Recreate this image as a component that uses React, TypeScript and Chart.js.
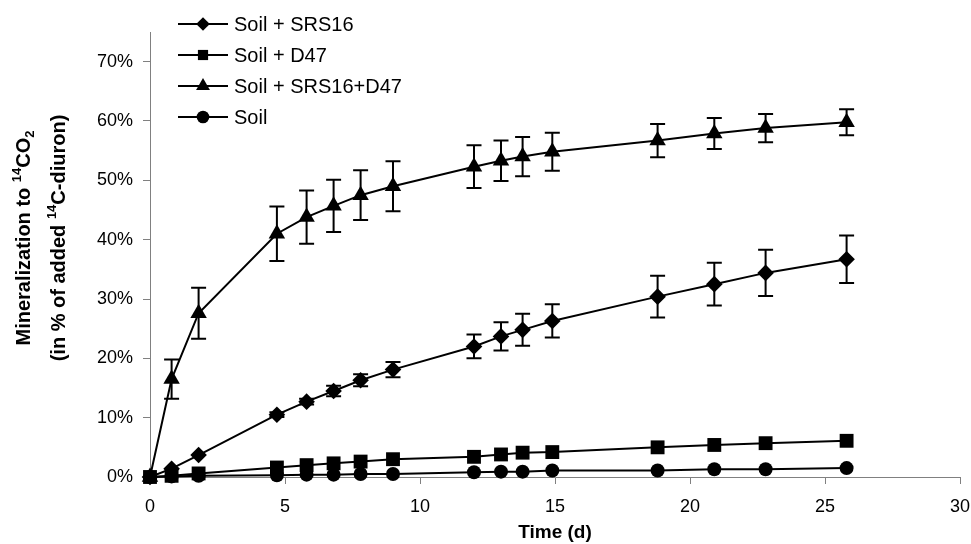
import React, { useEffect, useRef } from "react";
import { Chart, registerables } from "chart.js";

Chart.register(...registerables);

const days = [0, 0.8, 1.8, 4.7, 5.8, 6.8, 7.8, 9, 12, 13, 13.8, 14.9, 18.8, 20.9, 22.8, 25.8];

const srs16 = [0, 1.4, 3.7, 10.5, 12.7, 14.5, 16.3, 18.1, 22.0, 23.7, 24.8, 26.3, 30.4, 32.5, 34.4, 36.7];
const srs16Err = [0, 0, 0, 0.4, 0.5, 0.9, 1.0, 1.3, 2.0, 2.4, 2.7, 2.8, 3.5, 3.6, 3.9, 4.0];

const d47 = [0, 0.2, 0.6, 1.6, 2.0, 2.3, 2.6, 3.0, 3.4, 3.8, 4.1, 4.2, 5.0, 5.4, 5.7, 6.1];

const srs16d47 = [0, 16.5, 27.6, 41.0, 43.8, 45.7, 47.5, 49.0, 52.3, 53.3, 54.0, 54.8, 56.7, 57.9, 58.8, 59.8];
const srs16d47Err = [0, 3.3, 4.3, 4.6, 4.5, 4.4, 4.2, 4.2, 3.6, 3.4, 3.3, 3.2, 2.8, 2.6, 2.4, 2.2];

const soil = [0, 0.1, 0.2, 0.3, 0.4, 0.4, 0.5, 0.5, 0.8, 0.9, 0.9, 1.1, 1.1, 1.3, 1.3, 1.5];

const seriesNames = ["Soil + SRS16", "Soil + D47", "Soil + SRS16+D47", "Soil"];
const yTicks = [0, 10, 20, 30, 40, 50, 60, 70];
const xTicks = [0, 5, 10, 15, 20, 25, 30];

const FONT = '"Liberation Sans", Arial, Helvetica, sans-serif';

function drawMarker(ctx: CanvasRenderingContext2D, style: string, x: number, y: number, r: number) {
  ctx.beginPath();
  if (style === "rectRot") {
    ctx.moveTo(x, y - r);
    ctx.lineTo(x + r, y);
    ctx.lineTo(x, y + r);
    ctx.lineTo(x - r, y);
    ctx.closePath();
  } else if (style === "rect") {
    const s = r * Math.SQRT1_2;
    ctx.rect(x - s, y - s, 2 * s, 2 * s);
  } else if (style === "triangle") {
    for (let i = 0; i < 3; i++) {
      const a = (i * 2 * Math.PI) / 3;
      const px = x + Math.sin(a) * r;
      const py = y - Math.cos(a) * r;
      if (i === 0) ctx.moveTo(px, py);
      else ctx.lineTo(px, py);
    }
    ctx.closePath();
  } else {
    ctx.arc(x, y, r, 0, Math.PI * 2);
  }
  ctx.fill();
}

type Seg = { t: string; sup?: boolean; sub?: boolean };

function drawRich(ctx: CanvasRenderingContext2D, segs: Seg[], size: number, baseline: number) {
  const big = `bold ${size}px ${FONT}`;
  const small = `bold ${Math.round(size * 0.66)}px ${FONT}`;
  let total = 0;
  const widths = segs.map((s) => {
    ctx.font = s.sup || s.sub ? small : big;
    const w = ctx.measureText(s.t).width;
    total += w;
    return w;
  });
  let x = -total / 2;
  segs.forEach((s, i) => {
    ctx.font = s.sup || s.sub ? small : big;
    const dy = s.sup ? -size * 0.45 : s.sub ? size * 0.2 : 0;
    ctx.fillText(s.t, x, baseline + dy);
    x += widths[i];
  });
}

export default function App() {
  const ref = useRef<HTMLCanvasElement | null>(null);

  useEffect(() => {
    document.body.style.margin = "0";
    const canvas = ref.current;
    if (!canvas) return;

    const mk = (vals: number[]) => days.map((d, i) => ({ x: d, y: vals[i] }));
    const errMap: Record<number, number[]> = { 0: srs16Err, 2: srs16d47Err };
    const styles = ["rectRot", "rect", "triangle", "circle"];
    const radii = [8.3, 9.8, 9.5, 7];
    const legendRadii = [6.8, 7.2, 8, 6.3];

    const errorBars = {
      id: "errorBars",
      beforeDatasetsDraw(chart: any) {
        const ctx = chart.ctx;
        const xs = chart.scales.x;
        const ys = chart.scales.y;
        ctx.save();
        ctx.strokeStyle = "#000";
        ctx.lineWidth = 2;
        Object.keys(errMap).forEach((k) => {
          const di = Number(k);
          const vals = chart.data.datasets[di].data as { x: number; y: number }[];
          const errs = errMap[di];
          vals.forEach((p, i) => {
            const e = errs[i];
            if (!e) return;
            const px = xs.getPixelForValue(p.x);
            const top = ys.getPixelForValue(p.y + e);
            const bot = ys.getPixelForValue(p.y - e);
            ctx.beginPath();
            ctx.moveTo(px, top);
            ctx.lineTo(px, bot);
            ctx.moveTo(px - 7.5, top);
            ctx.lineTo(px + 7.5, top);
            ctx.moveTo(px - 7.5, bot);
            ctx.lineTo(px + 7.5, bot);
            ctx.stroke();
          });
        });
        ctx.restore();
      },
    };

    const decorations = {
      id: "decorations",
      afterDraw(chart: any) {
        const ctx = chart.ctx as CanvasRenderingContext2D;
        ctx.save();
        ctx.fillStyle = "#000";
        ctx.strokeStyle = "#000";
        // legend
        const rows = [24, 55, 86, 117];
        seriesNames.forEach((name, i) => {
          const y = rows[i];
          ctx.lineWidth = 2;
          ctx.beginPath();
          ctx.moveTo(178, y);
          ctx.lineTo(228, y);
          ctx.stroke();
          drawMarker(ctx, styles[i], 203, y, legendRadii[i]);
          ctx.font = `20px ${FONT}`;
          ctx.textAlign = "left";
          ctx.textBaseline = "middle";
          ctx.fillText(name, 234, y + 1);
        });
        // x title
        ctx.font = `bold 19px ${FONT}`;
        ctx.textAlign = "center";
        ctx.textBaseline = "middle";
        ctx.fillText("Time (d)", 555, 533);
        // y title
        ctx.translate(0, 238);
        ctx.rotate(-Math.PI / 2);
        ctx.textAlign = "left";
        ctx.textBaseline = "alphabetic";
        drawRich(ctx, [{ t: "Mineralization to " }, { t: "14", sup: true }, { t: "CO" }, { t: "2", sub: true }], 20, 30);
        drawRich(ctx, [{ t: "(in % of added " }, { t: "14", sup: true }, { t: "C-diuron)" }], 20, 65);
        ctx.restore();
      },
    };

    const chart = new Chart(canvas, {
      type: "line",
      data: {
        datasets: [srs16, d47, srs16d47, soil].map((vals, i) => ({
          label: seriesNames[i],
          data: mk(vals),
          borderColor: "#000",
          backgroundColor: "#000",
          borderWidth: 2,
          pointStyle: styles[i] as any,
          pointRadius: radii[i],
          pointBorderWidth: 0,
          pointBackgroundColor: "#000",
          tension: 0,
          clip: false as any,
        })),
      },
      options: {
        animation: false,
        responsive: true,
        maintainAspectRatio: false,
        layout: { padding: { top: 32, right: 11, left: 0, bottom: 0 } },
        plugins: { legend: { display: false }, tooltip: { enabled: false }, title: { display: false } },
        scales: {
          x: {
            type: "linear",
            min: 0,
            max: 30,
            afterBuildTicks: (s: any) => {
              s.ticks = xTicks.map((v) => ({ value: v }));
            },
            afterFit: (s: any) => {
              s.height = 67;
              s.paddingRight = 0;
              s.paddingLeft = 0;
            },
            grid: { display: true, drawOnChartArea: false, drawTicks: true, tickLength: 7, color: "#808080", lineWidth: 1 },
            border: { display: true, color: "#808080", width: 1 },
            ticks: {
              color: "#000",
              font: { family: FONT, size: 18 },
              padding: 12,
              maxRotation: 0,
              autoSkip: false,
            },
          },
          y: {
            type: "linear",
            min: 0,
            max: 75,
            afterBuildTicks: (s: any) => {
              s.ticks = yTicks.map((v) => ({ value: v }));
            },
            afterFit: (s: any) => {
              s.width = 150;
              s.paddingTop = 0;
              s.paddingBottom = 0;
            },
            grid: { display: true, drawOnChartArea: false, drawTicks: true, tickLength: 7, color: "#808080", lineWidth: 1 },
            border: { display: true, color: "#808080", width: 1 },
            ticks: {
              color: "#000",
              font: { family: FONT, size: 18 },
              padding: 10,
              autoSkip: false,
              callback: (v: any) => `${v}%`,
            },
          },
        },
      },
      plugins: [errorBars, decorations],
    });

    return () => chart.destroy();
  }, []);

  return (
    <div style={{ width: 971, height: 544, position: "relative", background: "#fff" }}>
      <canvas ref={ref} />
    </div>
  );
}
